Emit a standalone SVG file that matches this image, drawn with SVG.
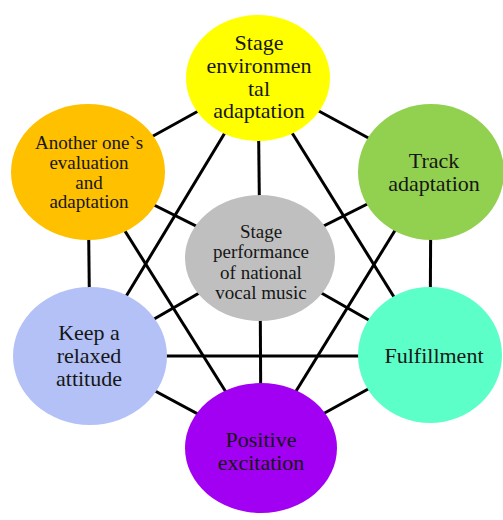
<svg xmlns="http://www.w3.org/2000/svg" width="503" height="520" viewBox="0 0 503 520">
<style>
.e{stroke:#000;stroke-width:3;fill:none}
.t{font-family:"Liberation Serif","Times New Roman",serif;fill:#161616;text-anchor:middle}
.lg{font-size:22px}
.sm{font-size:19px}
</style>
<rect width="503" height="520" fill="#fff"/>
<g id="connectors">
<line class="e" x1="258" y1="78" x2="88" y2="172"/>
<line class="e" x1="258" y1="78" x2="431" y2="172"/>
<line class="e" x1="88" y1="172" x2="90" y2="356"/>
<line class="e" x1="431" y1="172" x2="430" y2="355"/>
<line class="e" x1="90" y1="356" x2="261" y2="448"/>
<line class="e" x1="430" y1="355" x2="261" y2="448"/>
<line class="e" x1="260" y1="258" x2="258" y2="78"/>
<line class="e" x1="260" y1="258" x2="88" y2="172"/>
<line class="e" x1="260" y1="258" x2="431" y2="172"/>
<line class="e" x1="260" y1="258" x2="90" y2="356"/>
<line class="e" x1="260" y1="258" x2="430" y2="355"/>
<line class="e" x1="260" y1="258" x2="261" y2="448"/>
<line class="e" x1="258" y1="78" x2="90" y2="356"/>
<line class="e" x1="258" y1="78" x2="430" y2="355"/>
<line class="e" x1="88" y1="172" x2="261" y2="448"/>
<line class="e" x1="431" y1="172" x2="261" y2="448"/>
<line class="e" x1="90" y1="356" x2="430" y2="356"/>
</g>
<g id="stage-env">
<ellipse cx="258" cy="78" rx="72" ry="63" fill="#FFFF00"/>
<text class="t lg" x="259" y="50">Stage</text>
<text class="t lg" x="259" y="73">environmen</text>
<text class="t lg" x="259" y="96">tal</text>
<text class="t lg" x="259" y="118">adaptation</text>
</g>
<g id="another">
<ellipse cx="88" cy="172" rx="77" ry="68" fill="#FFC000"/>
<text class="t sm" x="89" y="149">Another one`s</text>
<text class="t sm" x="89" y="169">evaluation</text>
<text class="t sm" x="89" y="189">and</text>
<text class="t sm" x="89" y="208">adaptation</text>
</g>
<g id="track">
<ellipse cx="431" cy="172" rx="73" ry="68" fill="#92D050"/>
<text class="t lg" x="434" y="168">Track</text>
<text class="t lg" x="434" y="191">adaptation</text>
</g>
<g id="center">
<ellipse cx="260" cy="258" rx="75" ry="63" fill="#BFBFBF"/>
<text class="t sm" x="261" y="238">Stage</text>
<text class="t sm" x="261" y="258">performance</text>
<text class="t sm" x="261" y="279">of national</text>
<text class="t sm" x="261" y="299">vocal music</text>
</g>
<g id="relaxed">
<ellipse cx="90" cy="356" rx="77" ry="69" fill="#B3C1F6"/>
<text class="t lg" x="89" y="340">Keep a</text>
<text class="t lg" x="89" y="363">relaxed</text>
<text class="t lg" x="89" y="386">attitude</text>
</g>
<g id="fulfillment">
<ellipse cx="430" cy="355" rx="72" ry="68" fill="#5CFFC8"/>
<text class="t lg" x="434" y="363">Fulfillment</text>
</g>
<g id="positive">
<ellipse cx="261" cy="448" rx="76" ry="65" fill="#A100F2"/>
<text class="t lg" x="261" y="447">Positive</text>
<text class="t lg" x="261" y="470">excitation</text>
</g>
</svg>
